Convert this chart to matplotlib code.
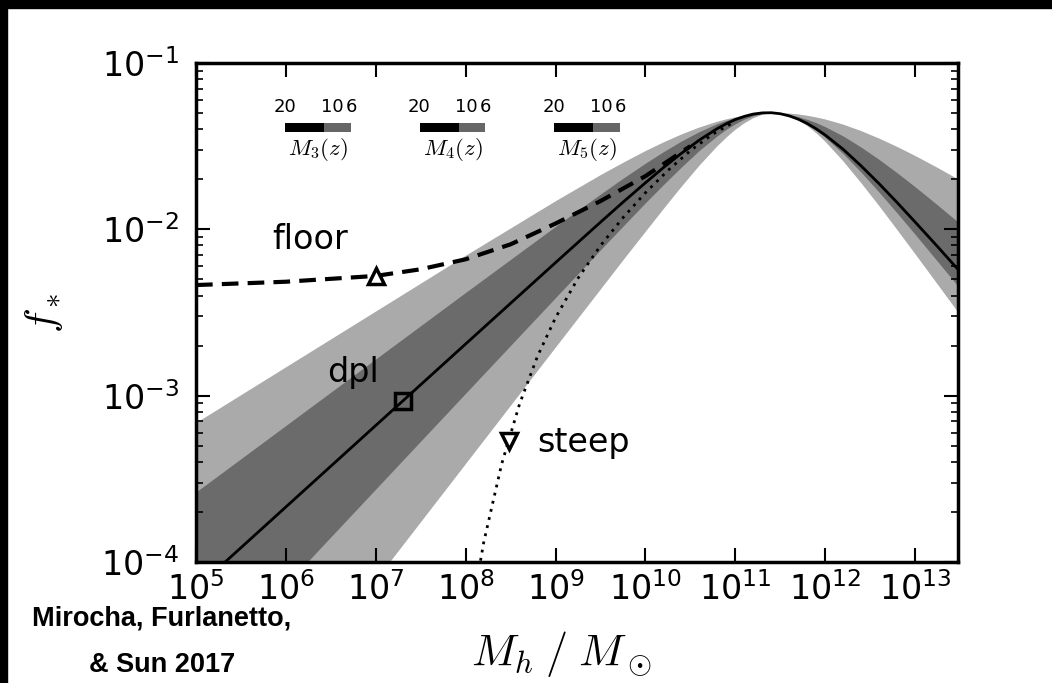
import matplotlib
matplotlib.use("Agg")
import matplotlib.pyplot as plt
from matplotlib.patches import Rectangle
import numpy as np

plt.rcParams["font.family"] = "DejaVu Sans"
plt.rcParams["mathtext.fontset"] = "cm"
plt.rcParams["axes.unicode_minus"] = False

# halo mass grid, log10(M_h / M_sun)
logm = [5.0, 8.0, 9.0, 9.5, 9.75, 10.0, 10.2, 10.4, 10.6, 10.8, 10.9,
        11.0, 11.1, 11.2, 11.3, 11.4, 11.5, 11.6, 11.7, 11.8, 11.9,
        12.0, 12.2, 12.4, 12.6, 12.8, 13.0, 13.25, 13.5]

# log10 f_* : double power law and the edges of the two shaded bands
dpl = [-4.159, -2.689, -2.2, -1.957, -1.837, -1.72, -1.629, -1.543, -1.463, -1.394, -1.365,
       -1.34, -1.321, -1.307, -1.3, -1.299, -1.305, -1.318, -1.338, -1.364, -1.396,
       -1.433, -1.519, -1.619, -1.726, -1.839, -1.956, -2.104, -2.255]
light_hi = [-3.166, -2.16, -1.832, -1.675, -1.601, -1.53, -1.478, -1.43, -1.388, -1.353, -1.339,
            -1.327, -1.317, -1.309, -1.304, -1.301, -1.301, -1.304, -1.309, -1.317, -1.327,
            -1.339, -1.37, -1.409, -1.454, -1.504, -1.558, -1.63, -1.706]
dark_hi = [-3.579, -2.379, -1.982, -1.788, -1.693, -1.602, -1.533, -1.469, -1.412, -1.364, -1.345,
           -1.328, -1.315, -1.306, -1.301, -1.3, -1.303, -1.311, -1.323, -1.339, -1.359,
           -1.383, -1.439, -1.506, -1.58, -1.66, -1.744, -1.854, -1.966]
dark_lo = [-4.713, -2.985, -2.41, -2.123, -1.981, -1.84, -1.731, -1.625, -1.525, -1.437, -1.398,
           -1.365, -1.337, -1.317, -1.304, -1.3, -1.304, -1.318, -1.339, -1.368, -1.405,
           -1.447, -1.545, -1.657, -1.777, -1.902, -2.03, -2.193, -2.356]
light_lo = [-5.513, -3.413, -2.713, -2.364, -2.189, -2.017, -1.88, -1.746, -1.618, -1.501, -1.449,
            -1.402, -1.363, -1.332, -1.311, -1.301, -1.304, -1.318, -1.343, -1.378, -1.421,
            -1.472, -1.59, -1.721, -1.859, -2.002, -2.147, -2.33, -2.514]

# "floor" and "steep" variants
logm_floor = [5.0, 6.0, 7.0, 7.5, 8.0, 8.5, 9.0, 9.5, 10.0, 10.25, 10.5]
floor = [-2.335, -2.315, -2.28, -2.24, -2.18, -2.09, -1.965, -1.83, -1.68, -1.59, -1.50]
logm_steep = [7.9, 8.0, 8.2, 8.4, 8.6, 8.8, 9.0, 9.25, 9.5, 9.75,
              10.0, 10.25, 10.5, 10.75, 11.0]
steep = [-4.893, -4.506, -3.884, -3.412, -3.049, -2.762, -2.531, -2.294, -2.098, -1.93,
         -1.78, -1.646, -1.527, -1.427, -1.351]

# labelled points on each curve
mark_mass = [1e7, 2e7, 3e8]
mark_logf = [-2.28, -3.03, -3.27]
mark_shape = ["^", "s", "v"]

# redshift keys
key_labels = [r"$M_3(z)$", r"$M_4(z)$", r"$M_5(z)$"]
key_ticks = [20, 10, 6]
z_split = 11.7

fig = plt.figure(figsize=(10.52, 6.83), dpi=100)
ax = fig.add_axes([196 / 1052, 1 - 562 / 683, 762 / 1052, 499 / 683])
ax.set_xscale("log")
ax.set_yscale("log")

M = 10 ** np.array(logm)
ax.fill_between(M, 10 ** np.array(light_lo), 10 ** np.array(light_hi), color="#aaaaaa", lw=0)
ax.fill_between(M, 10 ** np.array(dark_lo), 10 ** np.array(dark_hi), color="#6b6b6b", lw=0)
ax.plot(10 ** np.array(logm_floor), 10 ** np.array(floor), color="k", lw=3, dashes=(4, 2.2))
ax.plot(10 ** np.array(logm_steep), 10 ** np.array(steep), color="k", lw=2, ls=(0, (1, 2)))
ax.plot(M, 10 ** np.array(dpl), color="k", lw=2)

for m, lf, shp in zip(mark_mass, mark_logf, mark_shape):
    ax.plot(m, 10 ** lf, marker=shp, ms=12, mfc="white" if shp != "s" else "none",
            mec="k", mew=2.5)

ax.text(1.85e6, 10 ** -2.064, "floor", fontsize=24, ha="center", va="center")
ax.text(5.6e6, 10 ** -2.858, "dpl", fontsize=24, ha="center", va="center")
ax.text(6.2e8, 10 ** -3.28, "steep", fontsize=24, ha="left", va="center")

ax.set_xlim(1e5, 3e13)
ax.set_ylim(1e-4, 1e-1)
ax.set_xticks([10.0 ** k for k in range(5, 14)])
ax.tick_params(which="both", direction="in", top=True, right=True, labelsize=24)
ax.tick_params(which="major", length=10, width=1.5)
ax.tick_params(which="minor", length=5, width=1.2)
ax.tick_params(axis="x", pad=7)
ax.tick_params(axis="y", pad=12)
for s in ax.spines.values():
    s.set_linewidth(2.5)
ax.set_xlabel(r"$M_h\;/\;M_\odot$", fontsize=32)
ax.xaxis.set_label_coords((561 - 196) / 762, -0.135)
ax.set_ylabel(r"$f_*$", fontsize=30, labelpad=26)

for i, lab in enumerate(key_labels):
    x0 = 285 + i * 134.5
    bx = fig.add_axes([x0 / 1052, 1 - 132 / 683, 66 / 1052, 9 / 683])
    bx.barh(0, key_ticks[0] - z_split, left=z_split, height=1, color="k")
    bx.barh(0, z_split - key_ticks[-1], left=key_ticks[-1], height=1, color="#666666")
    bx.set_xlim(key_ticks[0], key_ticks[-1])
    bx.set_ylim(-0.5, 0.5)
    bx.set_xticks(key_ticks)
    bx.xaxis.tick_top()
    bx.tick_params(length=0, labelsize=13, pad=5)
    bx.set_yticks([])
    for s in bx.spines.values():
        s.set_visible(False)
    bx.set_xlabel(lab, fontsize=16.5, labelpad=3)

fig.text(162 / 1052, 1 - 618 / 683, "Mirocha, Furlanetto,", fontsize=19.5,
         fontweight="bold", family="Liberation Sans", ha="center", va="center")
fig.text(162 / 1052, 1 - 665 / 683, "& Sun 2017", fontsize=19.5,
         fontweight="bold", family="Liberation Sans", ha="center", va="center")

# dark frame along the top and left edges
fig.patches.append(Rectangle((0, 1 - 8 / 683), 1, 8 / 683, transform=fig.transFigure,
                             color="k", zorder=10))
fig.patches.append(Rectangle((0, 0), 7 / 1052, 1, transform=fig.transFigure,
                             color="k", zorder=10))

fig.savefig("out.png", dpi=100)
plt.close(fig)
